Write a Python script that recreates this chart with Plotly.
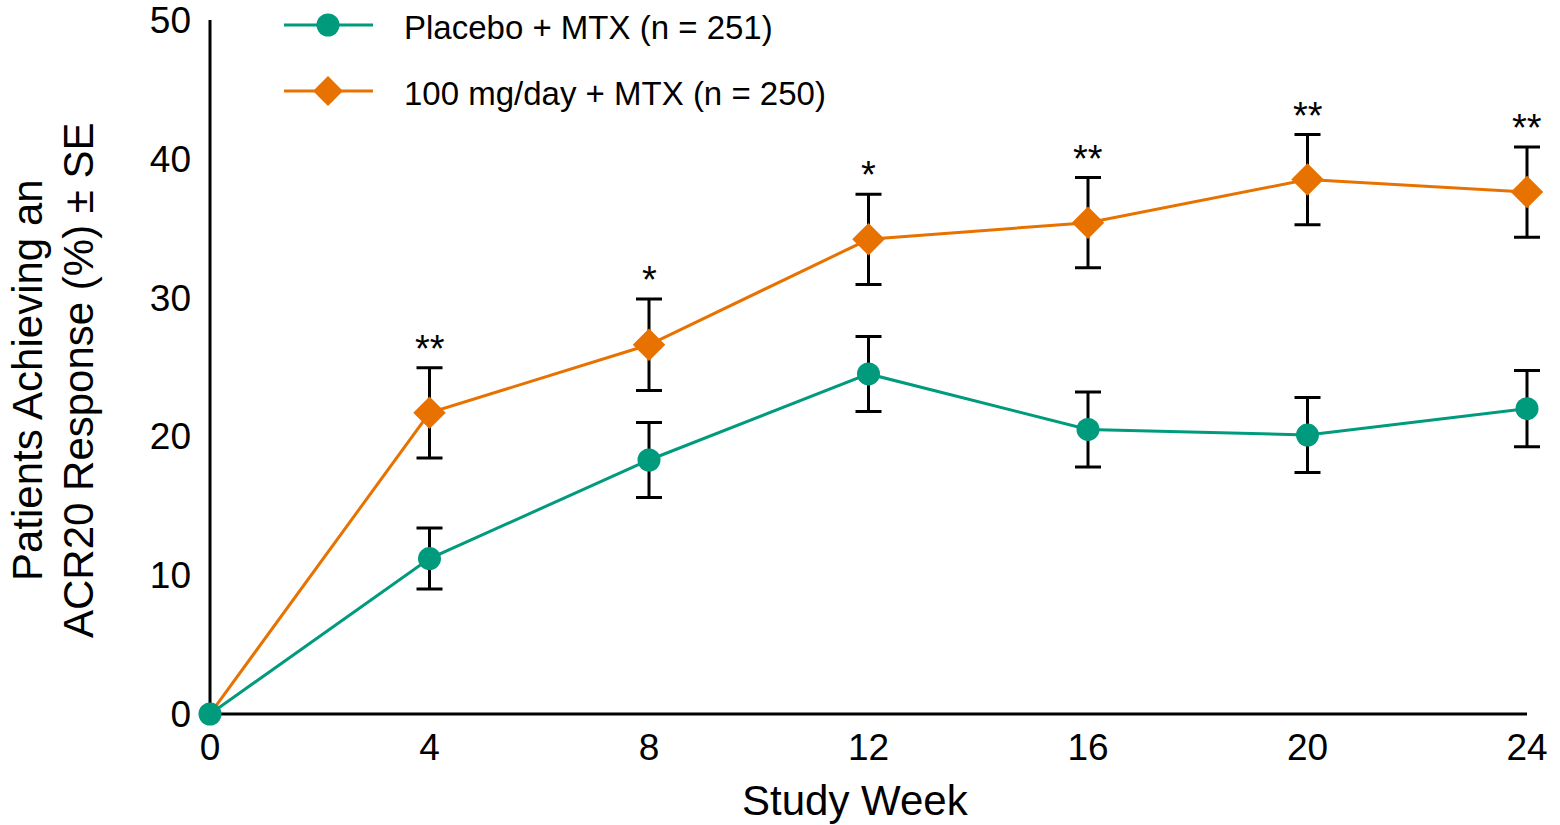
import plotly.graph_objects as go

# ---- data -------------------------------------------------------------
weeks = [0, 4, 8, 12, 16, 20, 24]
placebo_pct = [0, 11.2, 18.3, 24.5, 20.5, 20.1, 22.0]
placebo_se = [0, 2.2, 2.7, 2.7, 2.7, 2.7, 2.75]
active_pct = [0, 21.7, 26.6, 34.2, 35.4, 38.5, 37.6]
active_se = [0, 3.25, 3.3, 3.25, 3.25, 3.25, 3.25]
active_sig = ["", "**", "*", "*", "**", "**", "**"]
series_names = ["Placebo + MTX (n = 251)", "100 mg/day + MTX (n = 250)"]
x_ticks = [0, 4, 8, 12, 16, 20, 24]
y_ticks = [0, 10, 20, 30, 40, 50]

# ---- style ------------------------------------------------------------
FONT = "Liberation Sans, Arial, sans-serif"
TEAL = "#009A7D"
ORANGE = "#E77200"
W, H = 1560, 825
ML, MR, MT, MB = 210, 6, 20, 111
PW, PH = W - ML - MR, H - MT - MB
X_END_PX = 1527                      # pixel where week 24 sits
X_LAST = x_ticks[-1]
# extend the x range a little so the last error bars are not clipped
X_MAX = X_LAST * PW / (X_END_PX - ML)
Y_MAX = y_ticks[-1]
AXIS_W = 3


def px_to_paper(px, py):
    return (px - ML) / PW, (H - MB - py) / PH


fig = go.Figure()


def add_series(pct, se, color, symbol, size, hide_baseline_marker):
    # error bars only where an SE is reported
    ex = [w for w, s in zip(weeks, se) if s > 0]
    ey = [p for p, s in zip(pct, se) if s > 0]
    es = [s for s in se if s > 0]
    fig.add_trace(go.Scatter(
        x=ex, y=ey, mode="markers",
        marker=dict(size=0, color=color, opacity=1),
        error_y=dict(type="data", array=es, visible=True,
                     color="black", thickness=3, width=13),
        cliponaxis=False, showlegend=False, hoverinfo="skip",
    ))
    sizes = [0 if (hide_baseline_marker and w == 0) else size for w in weeks]
    fig.add_trace(go.Scatter(
        x=weeks, y=pct, mode="lines+markers",
        line=dict(color=color, width=3),
        marker=dict(symbol=symbol, size=sizes, color=color, opacity=1,
                    line=dict(width=0)),
        cliponaxis=False, showlegend=False,
    ))


add_series(active_pct, active_se, ORANGE, "diamond", 25, True)
add_series(placebo_pct, placebo_se, TEAL, "circle", 23, False)

# significance markers above the active-arm error bars
annotations = []
for w, p, s, sig in zip(weeks, active_pct, active_se, active_sig):
    if sig:
        annotations.append(dict(
            x=w, y=p + s, xref="x", yref="y", text=sig, showarrow=False,
            yanchor="bottom", yshift=-4,
            font=dict(family=FONT, size=38, color="black"),
        ))

# legend drawn on an overlay axis spanning the plot area
legend_rows = [(TEAL, "circle", 23, 25), (ORANGE, "diamond", 23, 91)]
for (color, symbol, msize, py), name in zip(legend_rows, series_names):
    x0, yy = px_to_paper(284, py)
    x1, _ = px_to_paper(373, py)
    xm, _ = px_to_paper(328, py)
    fig.add_trace(go.Scatter(
        x=[x0, xm, x1], y=[yy, yy, yy], xaxis="x2", yaxis="y2",
        mode="lines+markers", line=dict(color=color, width=3),
        marker=dict(symbol=symbol, size=[0, msize, 0], color=color,
                    opacity=1, line=dict(width=0)),
        cliponaxis=False, showlegend=False, hoverinfo="skip",
    ))
    tx, ty = px_to_paper(402, py + 3)
    annotations.append(dict(
        x=tx, y=ty, xref="paper", yref="paper", text=name, showarrow=False,
        xanchor="left", yanchor="middle",
        font=dict(family=FONT, size=33, color="black"),
    ))

# axis titles
ax, ay = px_to_paper(855, 800)
annotations.append(dict(
    x=ax, y=ay, xref="paper", yref="paper", text="Study Week",
    showarrow=False, xanchor="center", yanchor="middle",
    font=dict(family=FONT, size=42, color="black"),
))
for text, cx in [("Patients Achieving an", 27), ("ACR20 Response (%) ± SE", 78)]:
    tx, ty = px_to_paper(cx, 380)
    annotations.append(dict(
        x=tx, y=ty, xref="paper", yref="paper", text=text, textangle=-90,
        showarrow=False, xanchor="center", yanchor="middle",
        font=dict(family=FONT, size=42, color="black"),
    ))

# axis lines centred on the zero of each axis; x line stops at the last week
half_x = AXIS_W / 2 / PW
shapes = [
    dict(type="line", xref="paper", yref="paper",
         x0=-half_x, x1=X_LAST / X_MAX, y0=0, y1=0,
         line=dict(color="black", width=AXIS_W), layer="below"),
    dict(type="line", xref="paper", yref="paper",
         x0=0, x1=0, y0=0, y1=1,
         line=dict(color="black", width=AXIS_W), layer="below"),
]

tickfont = dict(family=FONT, size=37, color="black")

fig.update_layout(
    width=W, height=H,
    margin=dict(l=ML, r=MR, t=MT, b=MB, autoexpand=False),
    paper_bgcolor="white", plot_bgcolor="rgba(0,0,0,0)",
    showlegend=False,
    xaxis=dict(range=[0, X_MAX], tickvals=x_ticks, showline=False,
               ticks="", showgrid=False, zeroline=False, tickfont=tickfont,
               ticklabelstandoff=8, ticklabeloverflow="allow",
               automargin=False),
    yaxis=dict(range=[0, Y_MAX], tickvals=y_ticks, showline=False,
               ticks="", showgrid=False, zeroline=False, tickfont=tickfont,
               ticklabelstandoff=18, ticklabeloverflow="allow",
               automargin=False),
    xaxis2=dict(range=[0, 1], overlaying="x", visible=False, fixedrange=True),
    yaxis2=dict(range=[0, 1], overlaying="y", visible=False, fixedrange=True),
    annotations=annotations,
    shapes=shapes,
)

fig.write_html("out.html")
